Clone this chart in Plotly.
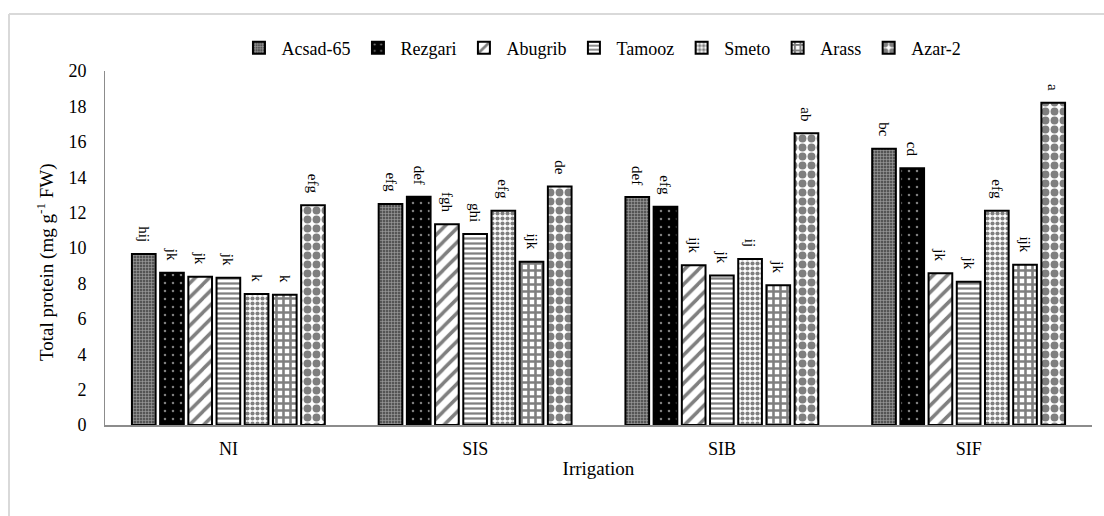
import plotly.graph_objects as go

# Irrigation treatments (x categories)
irrigation = ["NI", "SIS", "SIB", "SIF"]

# Total protein (mg g-1 FW) per cultivar across treatments
acsad_65 = [9.66, 12.49, 12.88, 15.61]
rezgari = [8.60, 12.90, 12.33, 14.50]
abugrib = [8.38, 11.34, 9.02, 8.57]
tamooz = [8.32, 10.79, 8.44, 8.10]
smeto = [7.40, 12.10, 9.38, 12.10]
arass = [7.36, 9.23, 7.89, 9.06]
azar_2 = [12.41, 13.47, 16.48, 18.20]

# Mean separation letters
acsad_65_lbl = ["hij", "efg", "def", "bc"]
rezgari_lbl = ["jk", "def", "efg", "cd"]
abugrib_lbl = ["jk", "fgh", "ijk", "jk"]
tamooz_lbl = ["jk", "ghi", "jk", "jk"]
smeto_lbl = ["k", "efg", "ij", "efg"]
arass_lbl = ["k", "ijk", "jk", "ijk"]
azar_2_lbl = ["efg", "de", "ab", "a"]

cultivars = ["Acsad-65", "Rezgari", "Abugrib", "Tamooz", "Smeto", "Arass", "Azar-2"]
values = [acsad_65, rezgari, abugrib, tamooz, smeto, arass, azar_2]
labels = [acsad_65_lbl, rezgari_lbl, abugrib_lbl, tamooz_lbl, smeto_lbl, arass_lbl, azar_2_lbl]

# Black-and-white fill patterns, one per cultivar
patterns = [
    dict(shape="+", bgcolor="#555555", fgcolor="#eeeeee", size=3, solidity=0.35),
    dict(shape=".", bgcolor="black", fgcolor="white", size=8, solidity=0.08),
    dict(shape="/", bgcolor="white", fgcolor="black", size=10, solidity=0.35),
    dict(shape="-", bgcolor="white", fgcolor="black", size=5, solidity=0.45),
    dict(shape=".", bgcolor="white", fgcolor="black", size=5, solidity=0.55),
    dict(shape="+", bgcolor="white", fgcolor="black", size=7, solidity=0.6),
    dict(shape=".", bgcolor="white", fgcolor="black", size=9, solidity=0.6),
]

SERIF = "Times New Roman, Liberation Serif, serif"
LABEL_GAP = 0.5  # lift of the letter labels above each bar, in data units

fig = go.Figure()
for i, (name, vals, lbls, pat) in enumerate(zip(cultivars, values, labels, patterns)):
    fig.add_trace(go.Bar(
        name=name,
        x=irrigation,
        y=vals,
        offsetgroup=str(i),
        cliponaxis=False,
        hoverinfo="x+y+name",
        marker=dict(color="white", pattern=pat,
                    line=dict(color="black", width=2)),
    ))
    # transparent spacer sitting on the bar top that carries the letter label
    fig.add_trace(go.Bar(
        x=irrigation,
        y=[LABEL_GAP] * len(vals),
        base=vals,
        offsetgroup=str(i),
        showlegend=False,
        hoverinfo="skip",
        text=lbls,
        textposition="outside",
        textangle=90,
        constraintext="none",
        textfont=dict(family=SERIF, size=15, color="black"),
        cliponaxis=False,
        marker=dict(color="rgba(0,0,0,0)", line=dict(width=0)),
    ))

# Chart-area border (left and top edges)
bx = (9 - 105) / 987
by = (425 - 14) / 354
fig.add_shape(type="line", xref="paper", yref="paper", x0=bx, x1=1.3, y0=by, y1=by,
              line=dict(color="#d9d9d9", width=2))
fig.add_shape(type="line", xref="paper", yref="paper", x0=bx, x1=bx, y0=-0.5, y1=by,
              line=dict(color="#d9d9d9", width=2))

# Y-axis title
fig.add_annotation(
    text="Total protein (mg g<sup>-1</sup> FW)",
    xref="paper", yref="paper", x=(45 - 105) / 987, y=(425 - 262) / 354,
    xanchor="center", yanchor="middle", textangle=-90, showarrow=False,
    font=dict(family=SERIF, size=19, color="black"),
)

fig.update_layout(
    width=1104, height=516,
    margin=dict(l=105, r=12, t=71, b=91),
    paper_bgcolor="white", plot_bgcolor="white",
    barmode="group", bargap=0.2, bargroupgap=0.16,
    font=dict(family=SERIF, color="black", size=18),
    legend=dict(orientation="h", x=0.503, xanchor="center", y=1.065, yanchor="middle",
                font=dict(family=SERIF, size=18, color="black", weight="normal"),
                itemwidth=35, bgcolor="rgba(0,0,0,0)"),
    xaxis=dict(showline=True, linecolor="#8c8c8c", linewidth=2, ticks="",
               showgrid=False, tickfont=dict(family=SERIF, size=18),
               ticklabelstandoff=6,
               title=dict(text="Irrigation", font=dict(family=SERIF, size=19), standoff=4)),
    yaxis=dict(range=[0, 20], dtick=2, showline=True, linecolor="#8c8c8c", linewidth=1,
               showgrid=False, zeroline=False, ticks="", ticklabelstandoff=14,
               tickfont=dict(family=SERIF, size=18)),
)

fig.write_html("out.html")
